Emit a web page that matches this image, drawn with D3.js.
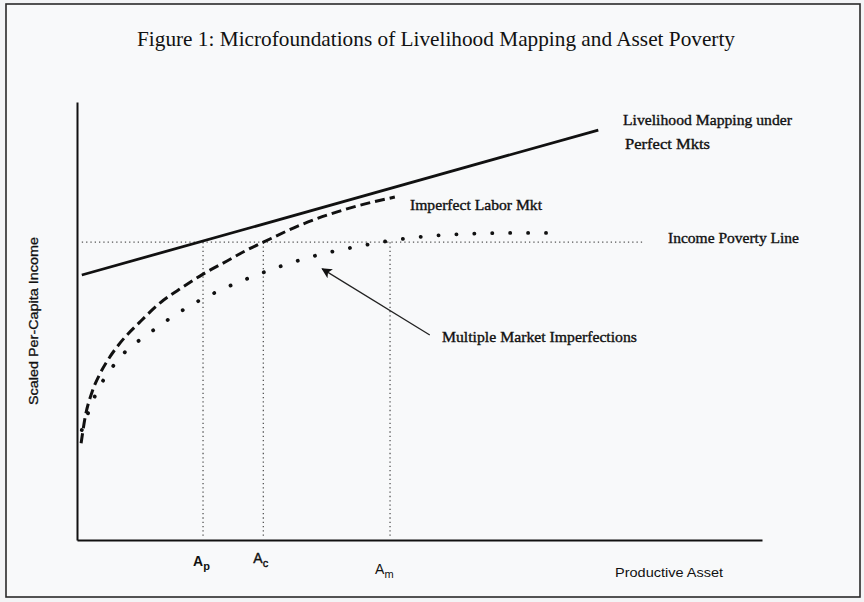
<!DOCTYPE html>
<html>
<head>
<meta charset="utf-8">
<script src="https://cdn.jsdelivr.net/npm/d3@7"></script>
<style>
  body { margin: 0; background: #f3f4f6; }
  svg { display: block; }
</style>
</head>
<body>
<div id="chart"></div>
<script>
// values (asset 0-100 on x, scaled income 0-100 on y)
const perfectMkts = [[0.7, 60.5], [76.1, 93.6]];

const imperfectLabor = [
  [0.6, 22.1], [1.2, 28.1], [2.2, 33.8], [3.4, 38.1], [4.8, 41.8],
  [6.3, 45.0], [9.2, 49.8], [12.1, 54.1], [15.5, 57.8], [18.4, 60.7],
  [21.9, 63.7], [24.8, 66.2], [27.2, 68.0], [32.6, 71.9], [40.3, 76.0],
  [46.4, 78.3]
];

const multipleImperf = [
  [0.7, 25.1], [1.5, 28.5], [2.6, 32.8], [3.7, 36.1], [4.8, 38.7],
  [7.0, 42.9], [10.2, 46.8], [13.3, 50.3], [17.2, 54.1], [21.3, 57.3],
  [25.7, 60.2], [30.7, 63.0], [35.5, 65.2], [40.6, 66.9], [46.0, 68.4],
  [51.4, 69.4], [57.1, 69.9], [62.8, 70.1], [68.6, 70.1]
];

const povertyLine = 68.0;
const povertyRange = [0.7, 82.5];

const thresholds = [
  {name: "A", sub: "p", x: 18.4},
  {name: "A", sub: "c", x: 27.2},
  {name: "A", sub: "m", x: 45.7}
];

const arrowFrom = [51.5, 46.8];
const arrowTo = [35.8, 61.9];

const width = 864, height = 602;

let svg = d3.select("#chart").append("svg")
    .attr("width", width)
    .attr("height", height);

// page frame
svg.append("rect")
    .attr("x", 6).attr("y", 4)
    .attr("width", 854).attr("height", 593)
    .attr("fill", "#f8f9fa")
    .attr("stroke", "#2a2a2a")
    .attr("stroke-width", 1.6);

let x = d3.scaleLinear().domain([0, 100]).range([77, 762]);
let y = d3.scaleLinear().domain([0, 100]).range([540, 102]);

let defs = svg.append("defs");
defs.append("marker")
    .attr("id", "head")
    .attr("viewBox", "0 0 10 10")
    .attr("refX", 9).attr("refY", 5)
    .attr("markerWidth", 11).attr("markerHeight", 8)
    .attr("markerUnits", "strokeWidth")
    .attr("orient", "auto")
    .append("path")
    .attr("d", "M0,0 L10,5 L0,10 L2.5,5 Z")
    .attr("fill", "#111");

// axes (no ticks in the original)
svg.append("g")
    .attr("transform", "translate(0," + y(0) + ")")
    .call(d3.axisBottom(x).tickValues([]).tickSizeOuter(0));
svg.append("g")
    .attr("transform", "translate(" + x(0) + ",0)")
    .call(d3.axisLeft(y).tickValues([]).tickSizeOuter(0));
svg.selectAll(".domain")
    .attr("stroke", "#111")
    .attr("stroke-width", 2);

// poverty line and threshold markers
svg.append("line")
    .attr("x1", x(povertyRange[0])).attr("x2", x(povertyRange[1]))
    .attr("y1", y(povertyLine)).attr("y2", y(povertyLine))
    .attr("stroke", "#555")
    .attr("stroke-width", 1.3)
    .attr("stroke-dasharray", "1.3 3");

svg.selectAll(".thresh")
    .data(thresholds)
    .enter().append("line")
    .attr("class", "thresh")
    .attr("x1", d => x(d.x)).attr("x2", d => x(d.x))
    .attr("y1", y(povertyLine)).attr("y2", y(0.9))
    .attr("stroke", "#555")
    .attr("stroke-width", 1.3)
    .attr("stroke-dasharray", "1.3 3");

let line = d3.line()
    .x(d => x(d[0]))
    .y(d => y(d[1]))
    .curve(d3.curveMonotoneX);

svg.append("path")
    .datum(perfectMkts)
    .attr("d", line)
    .attr("fill", "none")
    .attr("stroke", "#111")
    .attr("stroke-width", 2.8);

svg.append("path")
    .datum(imperfectLabor)
    .attr("d", line)
    .attr("fill", "none")
    .attr("stroke", "#111")
    .attr("stroke-width", 3)
    .attr("stroke-dasharray", "10 5");

let dotted = svg.append("path")
    .datum(multipleImperf)
    .attr("d", line)
    .attr("fill", "none")
    .attr("stroke", "#111")
    .attr("stroke-width", 3.8)
    .attr("stroke-linecap", "round");

// spread the dots so one lands on each end
let len = dotted.node().getTotalLength();
let n = Math.round(len / 18);
let gap = (len - 1) / n;
dotted.attr("stroke-dasharray", "0.1 " + (gap - 0.1));

svg.append("line")
    .attr("x1", x(arrowFrom[0])).attr("y1", y(arrowFrom[1]))
    .attr("x2", x(arrowTo[0])).attr("y2", y(arrowTo[1]))
    .attr("stroke", "#222")
    .attr("stroke-width", 1.3)
    .attr("marker-end", "url(#head)");

// texts
const serif = "'Liberation Serif', 'Times New Roman', serif";
const sans = "'Liberation Sans', Arial, sans-serif";

svg.append("text")
    .attr("x", 137).attr("y", 46)
    .attr("font-family", serif)
    .attr("font-size", 21)
    .attr("textLength", 598)
    .attr("lengthAdjust", "spacingAndGlyphs")
    .attr("fill", "#111")
    .text("Figure 1: Microfoundations of Livelihood Mapping and Asset Poverty");

let notes = [
  {text: "Livelihood Mapping under", x: 623, y: 125, w: 169},
  {text: "Perfect Mkts", x: 625, y: 149, w: 85},
  {text: "Imperfect Labor Mkt", x: 410, y: 210, w: 132},
  {text: "Income Poverty Line", x: 668, y: 243, w: 131},
  {text: "Multiple Market Imperfections", x: 442, y: 342, w: 195}
];

svg.selectAll(".note")
    .data(notes)
    .enter().append("text")
    .attr("class", "note")
    .attr("x", d => d.x).attr("y", d => d.y)
    .attr("font-family", serif)
    .attr("font-size", 14.5)
    .attr("stroke", "#111")
    .attr("stroke-width", 0.35)
    .attr("textLength", d => d.w)
    .attr("lengthAdjust", "spacingAndGlyphs")
    .attr("fill", "#111")
    .text(d => d.text);

svg.append("text")
    .attr("x", 615).attr("y", 577)
    .attr("font-family", sans)
    .attr("font-size", 13.5)
    .attr("textLength", 108)
    .attr("lengthAdjust", "spacingAndGlyphs")
    .attr("fill", "#111")
    .text("Productive Asset");

let labelY = [566, 563, 574];
svg.selectAll(".alab")
    .data(thresholds)
    .enter().append("text")
    .attr("class", "alab")
    .attr("x", (d, i) => x(d.x) - (i === 2 ? 15 : 10))
    .attr("y", (d, i) => labelY[i])
    .attr("font-family", sans)
    .attr("font-size", 14)
    .attr("font-weight", (d, i) => i === 0 ? "bold" : "normal")
    .attr("stroke", "#111")
    .attr("stroke-width", (d, i) => i === 1 ? 0.4 : 0)
    .attr("fill", "#111")
    .text(d => d.name)
    .append("tspan")
    .attr("dy", 4)
    .attr("font-size", 11)
    .text(d => d.sub);

svg.append("text")
    .attr("transform", "translate(38,321) rotate(-90)")
    .attr("text-anchor", "middle")
    .attr("font-family", sans)
    .attr("font-size", 13)
    .attr("stroke", "#111")
    .attr("stroke-width", 0.3)
    .attr("textLength", 168)
    .attr("lengthAdjust", "spacingAndGlyphs")
    .attr("fill", "#111")
    .text("Scaled Per-Capita Income");
</script>
</body>
</html>
